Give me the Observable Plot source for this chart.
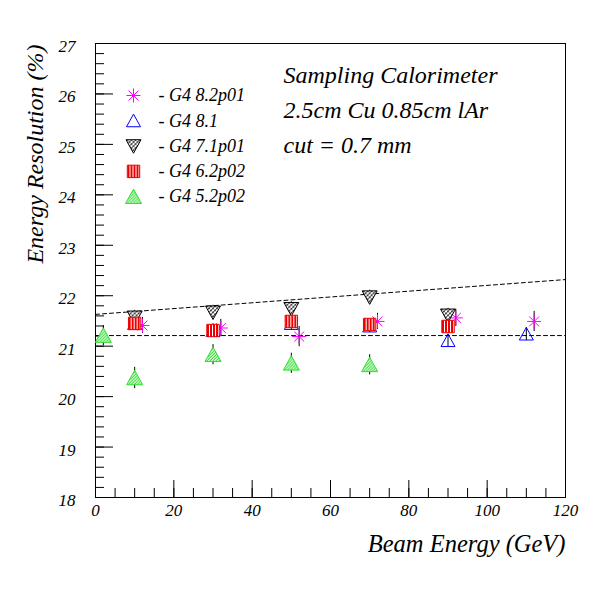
<!DOCTYPE html>
<html><head><meta charset="utf-8">
<script src="https://cdn.jsdelivr.net/npm/d3@7"></script>
<script src="https://cdn.jsdelivr.net/npm/@observablehq/plot@0.6"></script>
<style>body{margin:0;background:#fff} svg, svg text{font-family:"Liberation Serif","Times New Roman",Times,Tinos,"DejaVu Serif",serif !important;font-style:italic}</style>
</head><body><div id="chart"></div>
<script>
// ---- data ----
const s82x = [12, 32, 52, 72, 92, 112];
const s82y = [21.41, 21.36, 21.19, 21.49, 21.56, 21.49];
const s82e = [0.16, 0.17, 0.2, 0.16, 0.17, 0.2];
const s81x = [10, 30, 50, 70, 90, 110];
const s81y = [21.45, 21.31, 21.45, 21.40, 21.11, 21.24];
const s81e = [0.13, 0.13, 0.13, 0.13, 0.13, 0.13];
const s71x = [10, 30, 50, 70, 90];
const s71y = [21.57, 21.67, 21.74, 21.97, 21.61];
const s71e = [0.14, 0.14, 0.14, 0.14, 0.14];
const s62x = [10, 30, 50, 70, 90];
const s62y = [21.45, 21.31, 21.49, 21.43, 21.39];
const s62e = [0.1, 0.1, 0.1, 0.1, 0.1];
const s52x = [2, 10, 30, 50, 70];
const s52y = [21.21, 20.37, 20.83, 20.66, 20.63];
const s52e = [0.2, 0.21, 0.2, 0.2, 0.2];
const fitX = [0, 120];
const fitFlatY = [21.21, 21.21];
const fitSlopeY = [21.63, 22.32];
const xMajor = [0, 20, 40, 60, 80, 100, 120];
const xMinor = d3.range(0, 121, 5);
const yMajor = [18, 19, 20, 21, 22, 23, 24, 25, 26, 27];
const yMinor = d3.range(18, 27.001, 0.2).map(v => +v.toFixed(1));
const legendLabels = ["- G4 8.2p01", "- G4 8.1", "- G4 7.1p01", "- G4 6.2p02", "- G4 5.2p02"];
const notes = ["Sampling Calorimeter", "2.5cm Cu 0.85cm lAr", "cut = 0.7 mm"];

const FONT = "'Liberation Serif', 'Times New Roman', Times, Tinos, 'DejaVu Serif', serif";

// ---- symbols ----
const star = {draw(c, size) { const k = Math.sqrt(size / Math.PI), d = k * 0.707;
  c.moveTo(-k, 0); c.lineTo(k, 0); c.moveTo(0, -k); c.lineTo(0, k);
  c.moveTo(-d, -d); c.lineTo(d, d); c.moveTo(-d, d); c.lineTo(d, -d); }};
const triUp = {draw(c, size) { const k = Math.sqrt(size / Math.PI);
  c.moveTo(0, -k * 0.95); c.lineTo(k, k * 0.85); c.lineTo(-k, k * 0.85); c.closePath(); }};
const triDown = {draw(c, size) { const k = Math.sqrt(size / Math.PI);
  c.moveTo(0, k * 0.95); c.lineTo(k, -k * 0.85); c.lineTo(-k, -k * 0.85); c.closePath(); }};
const square = {draw(c, size) { const k = Math.sqrt(size / Math.PI) * 0.85;
  c.rect(-k, -k, 2 * k, 2 * k); }};

const series = [
  {x: s82x, y: s82y, e: s82e, symbol: star, r: 7, fill: "none", stroke: "#ff00ff", sw: 1},
  {x: s81x, y: s81y, e: s81e, symbol: triUp, r: 7, fill: "none", stroke: "#0000ff", sw: 1},
  {x: s71x, y: s71y, e: s71e, symbol: triDown, r: 7.5, fill: "url(#hatchBlack)", stroke: "#000", sw: 1},
  {x: s62x, y: s62y, e: s62e, symbol: square, r: 7.3, fill: "url(#stripeRed)", stroke: "#ee0000", sw: 1},
  {x: s52x, y: s52y, e: s52e, symbol: triUp, r: 8, fill: "url(#hatchGreen)", stroke: "#33dd33", sw: 1}
];
const errColor = "#000";
const txt = (size) => ({fontSize: size, fontFamily: FONT, fontStyle: "italic", fill: "#000"});

const marks = [];
// ticks (inward)
marks.push(Plot.axisX({ticks: xMajor, tickSize: 17, dy: -17, tickFormat: () => "", label: null}));
marks.push(Plot.axisX({ticks: xMinor, tickSize: 9, dy: -9, tickFormat: () => "", label: null}));
marks.push(Plot.axisY({ticks: yMajor, tickSize: 18, dx: 18, tickFormat: () => "", label: null}));
marks.push(Plot.axisY({ticks: yMinor, tickSize: 9, dx: 9, tickFormat: () => "", label: null}));
// tick labels
marks.push(Plot.text(xMajor, {x: d => d, text: d => String(d), frameAnchor: "bottom", dy: 13, lineAnchor: "middle", textAnchor: "middle", ...txt(17)}));
marks.push(Plot.text(yMajor, {y: d => d, text: d => String(d), frameAnchor: "left", dx: -20, dy: 3, lineAnchor: "middle", textAnchor: "end", ...txt(17)}));
marks.push(Plot.frame({stroke: "#000", strokeWidth: 1}));
// fit lines
marks.push(Plot.line(fitX.map((x, i) => ({x, y: fitFlatY[i]})), {x: "x", y: "y", stroke: "#000", strokeWidth: 1, strokeDasharray: "4,3"}));
marks.push(Plot.line(fitX.map((x, i) => ({x, y: fitSlopeY[i]})), {x: "x", y: "y", stroke: "#000", strokeWidth: 1, strokeDasharray: "4,3"}));
// series
for (const s of series) {
  const data = s.x.map((x, i) => ({x, y: s.y[i], e: s.e[i]}));
  marks.push(Plot.ruleX(data, {x: "x", y1: d => d.y - d.e, y2: d => d.y + d.e, stroke: errColor, strokeWidth: 1}));
}
for (const s of series) {
  const data = s.x.map((x, i) => ({x, y: s.y[i]}));
  marks.push(Plot.dot(data, {x: "x", y: "y", symbol: s.symbol, r: s.r, fill: s.fill, stroke: s.stroke, strokeWidth: s.sw}));
}
// legend
series.forEach((s, i) => {
  const dy = 52 + i * 25.3;
  marks.push(Plot.dot([0], {frameAnchor: "top-left", dx: 38, dy, symbol: s.symbol, r: s.r, fill: s.fill, stroke: s.stroke, strokeWidth: s.sw}));
  marks.push(Plot.text([legendLabels[i]], {text: d => d, frameAnchor: "top-left", dx: 63, dy, textAnchor: "start", lineAnchor: "middle", ...txt(18)}));
});
// notes
notes.forEach((t, i) => {
  marks.push(Plot.text([t], {text: d => d, frameAnchor: "top-left", dx: 188, dy: 32 + i * 35, textAnchor: "start", lineAnchor: "middle", ...txt(24)}));
});
// axis titles
marks.push(Plot.text(["Beam Energy (GeV)"], {text: d => d, frameAnchor: "bottom-right", dy: 47, textAnchor: "end", lineAnchor: "middle", ...txt(24.5)}));
marks.push(Plot.text(["Energy Resolution (%)"], {text: d => d, frameAnchor: "top-left", dx: -60, dy: 1, rotate: -90, textAnchor: "end", lineAnchor: "middle", ...txt(24)}));

const chart = Plot.plot({
  width: 600, height: 600,
  marginLeft: 95, marginRight: 35, marginTop: 43, marginBottom: 103,
  x: {domain: [0, 120], axis: null},
  y: {domain: [18, 27], axis: null},
  style: {fontFamily: FONT, fontStyle: "italic", background: "#fff", color: "#000", overflow: "visible"},
  marks
});

const defs = `<defs>
<pattern id="hatchBlack" patternUnits="userSpaceOnUse" width="4" height="4">
<rect width="4" height="4" fill="#fff"/><path d="M0,4 L4,0 M-1,1 L1,-1 M3,5 L5,3" stroke="#000" stroke-width="0.9"/>
<path d="M0,0 L4,4" stroke="#000" stroke-width="0.5"/></pattern>
<pattern id="stripeRed" patternUnits="userSpaceOnUse" width="3" height="3">
<rect width="3" height="3" fill="#fff"/><rect width="2" height="3" fill="#ee0000"/></pattern>
<pattern id="hatchGreen" patternUnits="userSpaceOnUse" width="3" height="3">
<rect width="3" height="3" fill="#ccffcc"/><path d="M0,3 L3,0 M-1,1 L1,-1 M2,4 L4,2" stroke="#22cc22" stroke-width="1"/></pattern>
</defs>`;
chart.insertAdjacentHTML("afterbegin", defs);
document.getElementById("chart").appendChild(chart);
</script>
</body></html>
